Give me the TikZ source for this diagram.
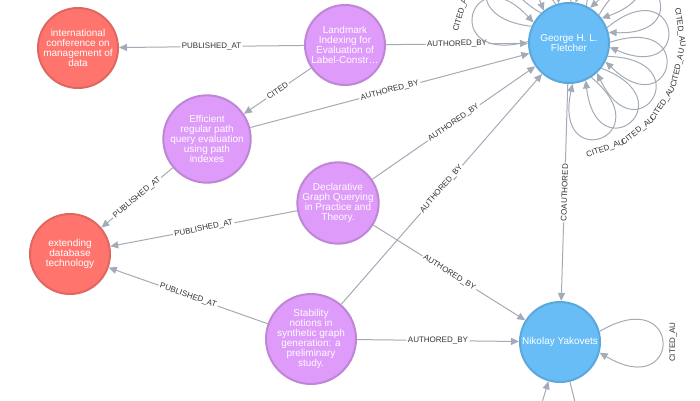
\documentclass[tikz,border=0pt]{standalone}
\usepackage{fontspec}
\setmainfont{Liberation Sans}
\usetikzlibrary{arrows.meta,calc}
\definecolor{relcol}{HTML}{A5ABB6}
\definecolor{bluefill}{HTML}{68BDF6}
\definecolor{bluestroke}{HTML}{5CA8DB}
\definecolor{redfill}{HTML}{FF756E}
\definecolor{redstroke}{HTML}{E06760}
\definecolor{purpfill}{HTML}{DE9BF9}
\definecolor{purpstroke}{HTML}{BF85D6}
\definecolor{lbltext}{HTML}{333333}
\tikzset{
  gnode/.style={circle, minimum size=80pt, inner sep=0pt, line width=2pt, text=white, align=center, font=\fontsize{10}{10}\selectfont},
  person/.style={gnode, fill=bluefill, draw=bluestroke},
  venue/.style={gnode, fill=redfill, draw=redstroke},
  paper/.style={gnode, fill=purpfill, draw=purpstroke},
  rel/.style={color=relcol, line width=1pt, -{Triangle[length=8pt,width=7pt]}},
  rlabel/.style={midway, sloped, fill=white, inner sep=1.5pt, text=lbltext, font=\fontsize{8}{8}\selectfont},
  looplabel/.style={text=lbltext, font=\fontsize{8}{8}\selectfont, inner sep=0pt},
}
\begin{document}
\begin{tikzpicture}[x=1pt,y=1pt]
\useasboundingbox (0,0) rectangle (700,400);
\fill[white] (0,0) rectangle (700,400);
\clip (0,0) rectangle (700,400);

\node[venue] (intl) at (78,352) {international\\conference on\\management of\\data};
\node[paper] (landmark) at (345,355) {Landmark\\Indexing for\\Evaluation of\\Label-Constr…};
\node[paper] (efficient) at (207,261) {Efficient\\regular path\\query evaluation\\using path\\indexes};
\node[paper] (declar) at (338,197) {Declarative\\Graph Querying\\in Practice and\\Theory.};
\node[venue] (extend) at (70,146) {extending\\database\\technology};
\node[paper] (stab) at (311,61) {Stability\\notions in\\synthetic graph\\generation: a\\preliminary\\study.};
\node[person] (G) at (569,357) {George H. L.\\Fletcher};
\node[person] (N) at (560,58) {Nikolay Yakovets};

\coordinate (off1) at (526,-57);
\coordinate (off2) at (590,-62);

\draw[rel] (landmark) -- (intl) node[rlabel] {PUBLISHED\_AT};
\draw[rel] (landmark) -- (G) node[rlabel] {AUTHORED\_BY};
\draw[rel] (landmark) -- (efficient) node[rlabel] {CITED};
\draw[rel] (efficient) -- (G) node[rlabel] {AUTHORED\_BY};
\draw[rel] (efficient) -- (extend) node[rlabel] {PUBLISHED\_AT};
\draw[rel] (declar) -- (extend) node[rlabel] {PUBLISHED\_AT};
\draw[rel] (declar) -- (G) node[rlabel] {AUTHORED\_BY};
\draw[rel] (declar) -- (N) node[rlabel] {AUTHORED\_BY};
\draw[rel] (stab) -- (extend) node[rlabel] {PUBLISHED\_AT};
\draw[rel] (stab) -- (G) node[rlabel] {AUTHORED\_BY};
\draw[rel] (stab) -- (N) node[rlabel] {AUTHORED\_BY};
\draw[rel] (G) -- (N) node[rlabel] {COAUTHORED};
\draw[rel] (off1) -- (N);
\draw[rel] (N) -- (off2);

% self-loops of George (petals)
\foreach \a in {-85,-66,-47,-27,-6,15,37,59,81,105,128,150}{
  \pgfmathtruncatemacro{\s}{\a+28}
  \pgfmathtruncatemacro{\d}{\a+14}
  \pgfmathtruncatemacro{\ca}{\d+26}
  \pgfmathtruncatemacro{\cb}{\d-26}
  \draw[rel] (G.\s) .. controls ($(G.center)+(\ca:133pt)$) and ($(G.center)+(\cb:133pt)$) .. (G.\a);
}
% labels of the loops that lie inside the frame
\foreach \d in {-71,-52,-33,-13,8,164}{
  \pgfmathtruncatemacro{\rot}{ifthenelse(\d>0, \d-90, \d+90)}
  \pgfmathtruncatemacro{\rot}{ifthenelse(\d>90, \d-90, \rot)}
  \node[looplabel, rotate=\rot] (glab\d) at ($(G.center)+(\d:112pt)$) {CITED\_AU};
}

\draw[rel] (N.15) .. controls ($(N.center)+(26:137pt)$) and ($(N.center)+(-26:137pt)$) .. (N.-15);
\node[looplabel, rotate=90] (nlab) at ($(N.center)+(0:113pt)$) {CITED\_AU};
\end{tikzpicture}
\end{document}
